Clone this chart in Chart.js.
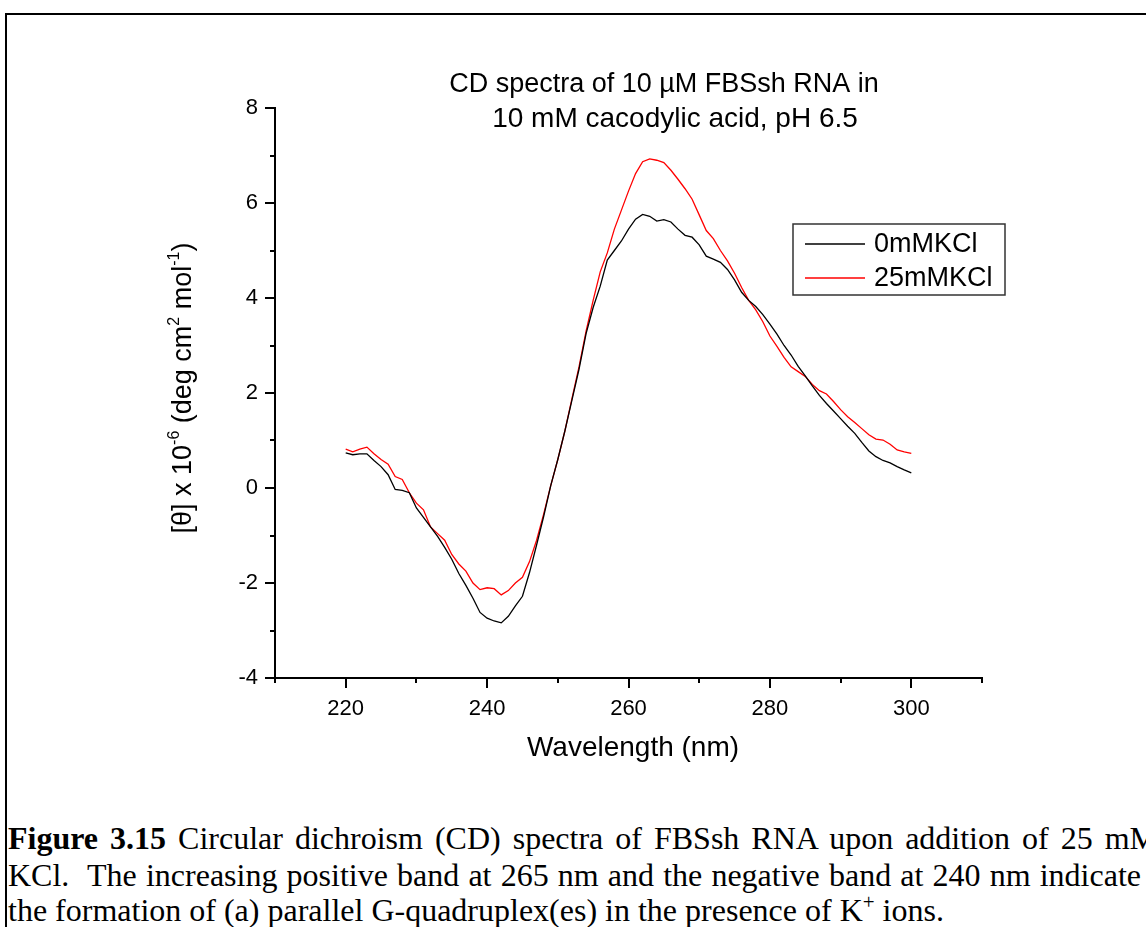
<!DOCTYPE html>
<html>
<head>
  <title>CD spectra of FBSsh RNA</title>
  <script src="https://cdn.jsdelivr.net/npm/chart.js"></script>
  <style>
    body { margin: 0; overflow: hidden; background: #fff; width: 1146px; height: 927px; }
    #grafico { position: absolute; left: 0; top: 0; }
    #frame { position: absolute; left: 5px; top: 13px; width: 1300px; height: 1000px;
             border-left: 2px solid #000; border-top: 2px solid #000; }
    .cap { position: absolute; left: 8px; font-family: "Liberation Serif", "Times New Roman", serif;
           font-size: 32px; line-height: 32px; white-space: nowrap; color: #000; }
    .just { text-align: justify; text-align-last: justify; white-space: normal; }
  </style>
</head>
<body>
  <div id="frame"></div>
  <canvas id="grafico" width="1146" height="800"></canvas>
  <div class="cap just" style="top:822px; width:1150px;"><b>Figure 3.15</b> Circular dichroism (CD) spectra of FBSsh RNA upon addition of 25 mM</div>
  <div class="cap just" style="top:859px; width:1133px;">KCl.&nbsp; The increasing positive band at 265 nm and the negative band at 240 nm indicate</div>
  <div class="cap" style="top:894px;">the formation of (a) parallel G-quadruplex(es) in the presence of K<sup style="font-size:21px; line-height:0;">+</sup> ions.</div>

  <script>
    // wavelength (nm)
    var wavelength = [220, 221, 222, 223, 224, 225, 226, 227, 228, 229,
                      230, 231, 232, 233, 234, 235, 236, 237, 238, 239,
                      240, 241, 242, 243, 244, 245, 246, 247, 248, 249,
                      250, 251, 252, 253, 254, 255, 256, 257, 258, 259,
                      260, 261, 262, 263, 264, 265, 266, 267, 268, 269,
                      270, 271, 272, 273, 274, 275, 276, 277, 278, 279,
                      280, 281, 282, 283, 284, 285, 286, 287, 288, 289,
                      290, 291, 292, 293, 294, 295, 296, 297, 298, 299, 300];

    // [theta] x 10^-6, 0 mM KCl
    var kcl0 = [0.74, 0.70, 0.72, 0.72, 0.58, 0.45, 0.28, -0.03, -0.05, -0.10,
                -0.42, -0.62, -0.82, -1.02, -1.25, -1.50, -1.80, -2.05, -2.32, -2.62,
                -2.74, -2.80, -2.84, -2.70, -2.48, -2.28, -1.78, -1.20, -0.60, 0.05,
                0.60, 1.20, 1.85, 2.50, 3.25, 3.80, 4.25, 4.80, 5.00, 5.20,
                5.45, 5.66, 5.76, 5.72, 5.62, 5.65, 5.60, 5.45, 5.32, 5.28,
                5.12, 4.88, 4.82, 4.75, 4.60, 4.38, 4.12, 3.95, 3.82, 3.65,
                3.45, 3.24, 3.00, 2.80, 2.56, 2.36, 2.15, 1.95, 1.78, 1.62,
                1.46, 1.30, 1.15, 0.96, 0.78, 0.66, 0.58, 0.53, 0.45, 0.38, 0.32];

    // [theta] x 10^-6, 25 mM KCl
    var kcl25 = [0.82, 0.76, 0.82, 0.86, 0.72, 0.60, 0.50, 0.24, 0.18, -0.10,
                 -0.32, -0.46, -0.82, -0.96, -1.10, -1.40, -1.60, -1.75, -2.00, -2.14,
                 -2.10, -2.12, -2.25, -2.16, -2.00, -1.88, -1.55, -1.10, -0.55, 0.05,
                 0.60, 1.20, 1.88, 2.55, 3.30, 3.95, 4.55, 4.95, 5.45, 5.85,
                 6.25, 6.62, 6.87, 6.93, 6.90, 6.85, 6.69, 6.50, 6.30, 6.08,
                 5.75, 5.42, 5.25, 5.00, 4.78, 4.52, 4.22, 3.95, 3.75, 3.50,
                 3.20, 2.98, 2.75, 2.55, 2.45, 2.35, 2.18, 2.05, 1.98, 1.82,
                 1.65, 1.50, 1.38, 1.25, 1.12, 1.03, 1.01, 0.92, 0.80, 0.76, 0.73];

    var seriesNames = ['0mMKCl', '25mMKCl'];
    var xTickLabels = [220, 240, 260, 280, 300];
    var yTickLabels = [-4, -2, 0, 2, 4, 6, 8];

    var SANS = '"Liberation Sans", Arial, sans-serif';

    function pairs(ys) {
      return wavelength.map(function(w, i) { return { x: w, y: ys[i] }; });
    }

    // tick marks, titles and the boxed legend
    var decor = {
      id: 'decor',
      afterDraw: function(chart) {
        var ctx = chart.ctx, a = chart.chartArea;
        var xs = chart.scales.x, ys = chart.scales.y;
        ctx.save();
        ctx.strokeStyle = '#000';
        ctx.lineWidth = 2;
        xs.ticks.forEach(function(t) {
          var px = Math.round(xs.getPixelForValue(t.value));
          var len = xTickLabels.indexOf(t.value) >= 0 ? 10 : 5;
          ctx.beginPath(); ctx.moveTo(px, a.bottom); ctx.lineTo(px, a.bottom + len); ctx.stroke();
        });
        ys.ticks.forEach(function(t) {
          var py = Math.round(ys.getPixelForValue(t.value));
          var len = yTickLabels.indexOf(t.value) >= 0 ? 10 : 5;
          ctx.beginPath(); ctx.moveTo(a.left, py); ctx.lineTo(a.left - len, py); ctx.stroke();
        });

        ctx.fillStyle = '#000';
        ctx.textAlign = 'center';
        ctx.textBaseline = 'middle';
        // chart title
        ctx.font = '27px ' + SANS;
        ctx.fillText('CD spectra of 10 \u00b5M FBSsh RNA in', a.left + 389, a.top - 23);
        ctx.font = '28px ' + SANS;
        ctx.fillText('10 mM cacodylic acid, pH 6.5', a.left + 400, a.top + 11);
        // x axis title
        ctx.fillText('Wavelength (nm)', a.left + 358, a.bottom + 70);

        // y axis title with superscripts
        var parts = [['[\u03b8] x 10', 0], ['-6', 1], [' (deg cm', 0], ['2', 1], [' mol', 0], ['-1', 1], [')', 0]];
        var total = 0;
        parts.forEach(function(p) {
          ctx.font = (p[1] ? '16px ' : '27px ') + SANS;
          total += ctx.measureText(p[0]).width;
        });
        ctx.save();
        ctx.translate(181, (a.top + a.bottom) / 2 - 5);
        ctx.rotate(-Math.PI / 2);
        ctx.textAlign = 'left';
        ctx.textBaseline = 'alphabetic';
        var cx = -total / 2;
        parts.forEach(function(p) {
          ctx.font = (p[1] ? '16px ' : '27px ') + SANS;
          ctx.fillText(p[0], cx, p[1] ? -2 : 10);
          cx += ctx.measureText(p[0]).width;
        });
        ctx.restore();

        // legend box
        var lx = a.left + 518, ly = a.top + 116;
        ctx.lineWidth = 1.5;
        ctx.strokeStyle = '#333';
        ctx.strokeRect(lx, ly, 212, 71);
        ctx.font = '27px ' + SANS;
        ctx.textAlign = 'left';
        chart.data.datasets.forEach(function(ds, i) {
          var yy = ly + 20 + i * 34;
          ctx.strokeStyle = ds.borderColor;
          ctx.lineWidth = 1.3;
          ctx.beginPath(); ctx.moveTo(lx + 12, yy); ctx.lineTo(lx + 72, yy); ctx.stroke();
          ctx.fillStyle = '#000';
          ctx.fillText(ds.label, lx + 81, yy + 1);
        });
        ctx.restore();
      }
    };

    var ctx = document.getElementById('grafico').getContext('2d');
    new Chart(ctx, {
      type: 'line',
      data: {
        datasets: [{
          label: seriesNames[0],
          data: pairs(kcl0),
          borderColor: '#000000',
          borderWidth: 1.3,
          pointRadius: 0,
          tension: 0
        }, {
          label: seriesNames[1],
          data: pairs(kcl25),
          borderColor: '#ff0000',
          borderWidth: 1.3,
          pointRadius: 0,
          tension: 0
        }]
      },
      options: {
        responsive: false,
        animation: false,
        devicePixelRatio: 1,
        layout: { padding: { left: 195, top: 108, right: 164, bottom: 52 } },
        plugins: { legend: { display: false }, title: { display: false }, tooltip: { enabled: false } },
        scales: {
          x: {
            type: 'linear',
            min: 210,
            max: 310,
            afterFit: function(s) { s.height = 70; },
            grid: { drawOnChartArea: false, drawTicks: true, tickLength: 10, color: 'rgba(0,0,0,0)' },
            border: { display: true, color: '#000', width: 2 },
            ticks: {
              stepSize: 10,
              padding: 8,
              color: '#000',
              maxRotation: 0,
              autoSkip: false,
              font: { family: SANS, size: 22 },
              callback: function(v) { return xTickLabels.indexOf(v) >= 0 ? String(v) : ''; }
            }
          },
          y: {
            min: -4,
            max: 8,
            afterFit: function(s) { s.width = 80; },
            grid: { drawOnChartArea: false, drawTicks: true, tickLength: 10, color: 'rgba(0,0,0,0)' },
            border: { display: true, color: '#000', width: 2 },
            ticks: {
              stepSize: 1,
              padding: 7,
              color: '#000',
              autoSkip: false,
              font: { family: SANS, size: 22 },
              callback: function(v) { return yTickLabels.indexOf(v) >= 0 ? String(v) : ''; }
            }
          }
        }
      },
      plugins: [decor]
    });
  </script>
</body>
</html>
